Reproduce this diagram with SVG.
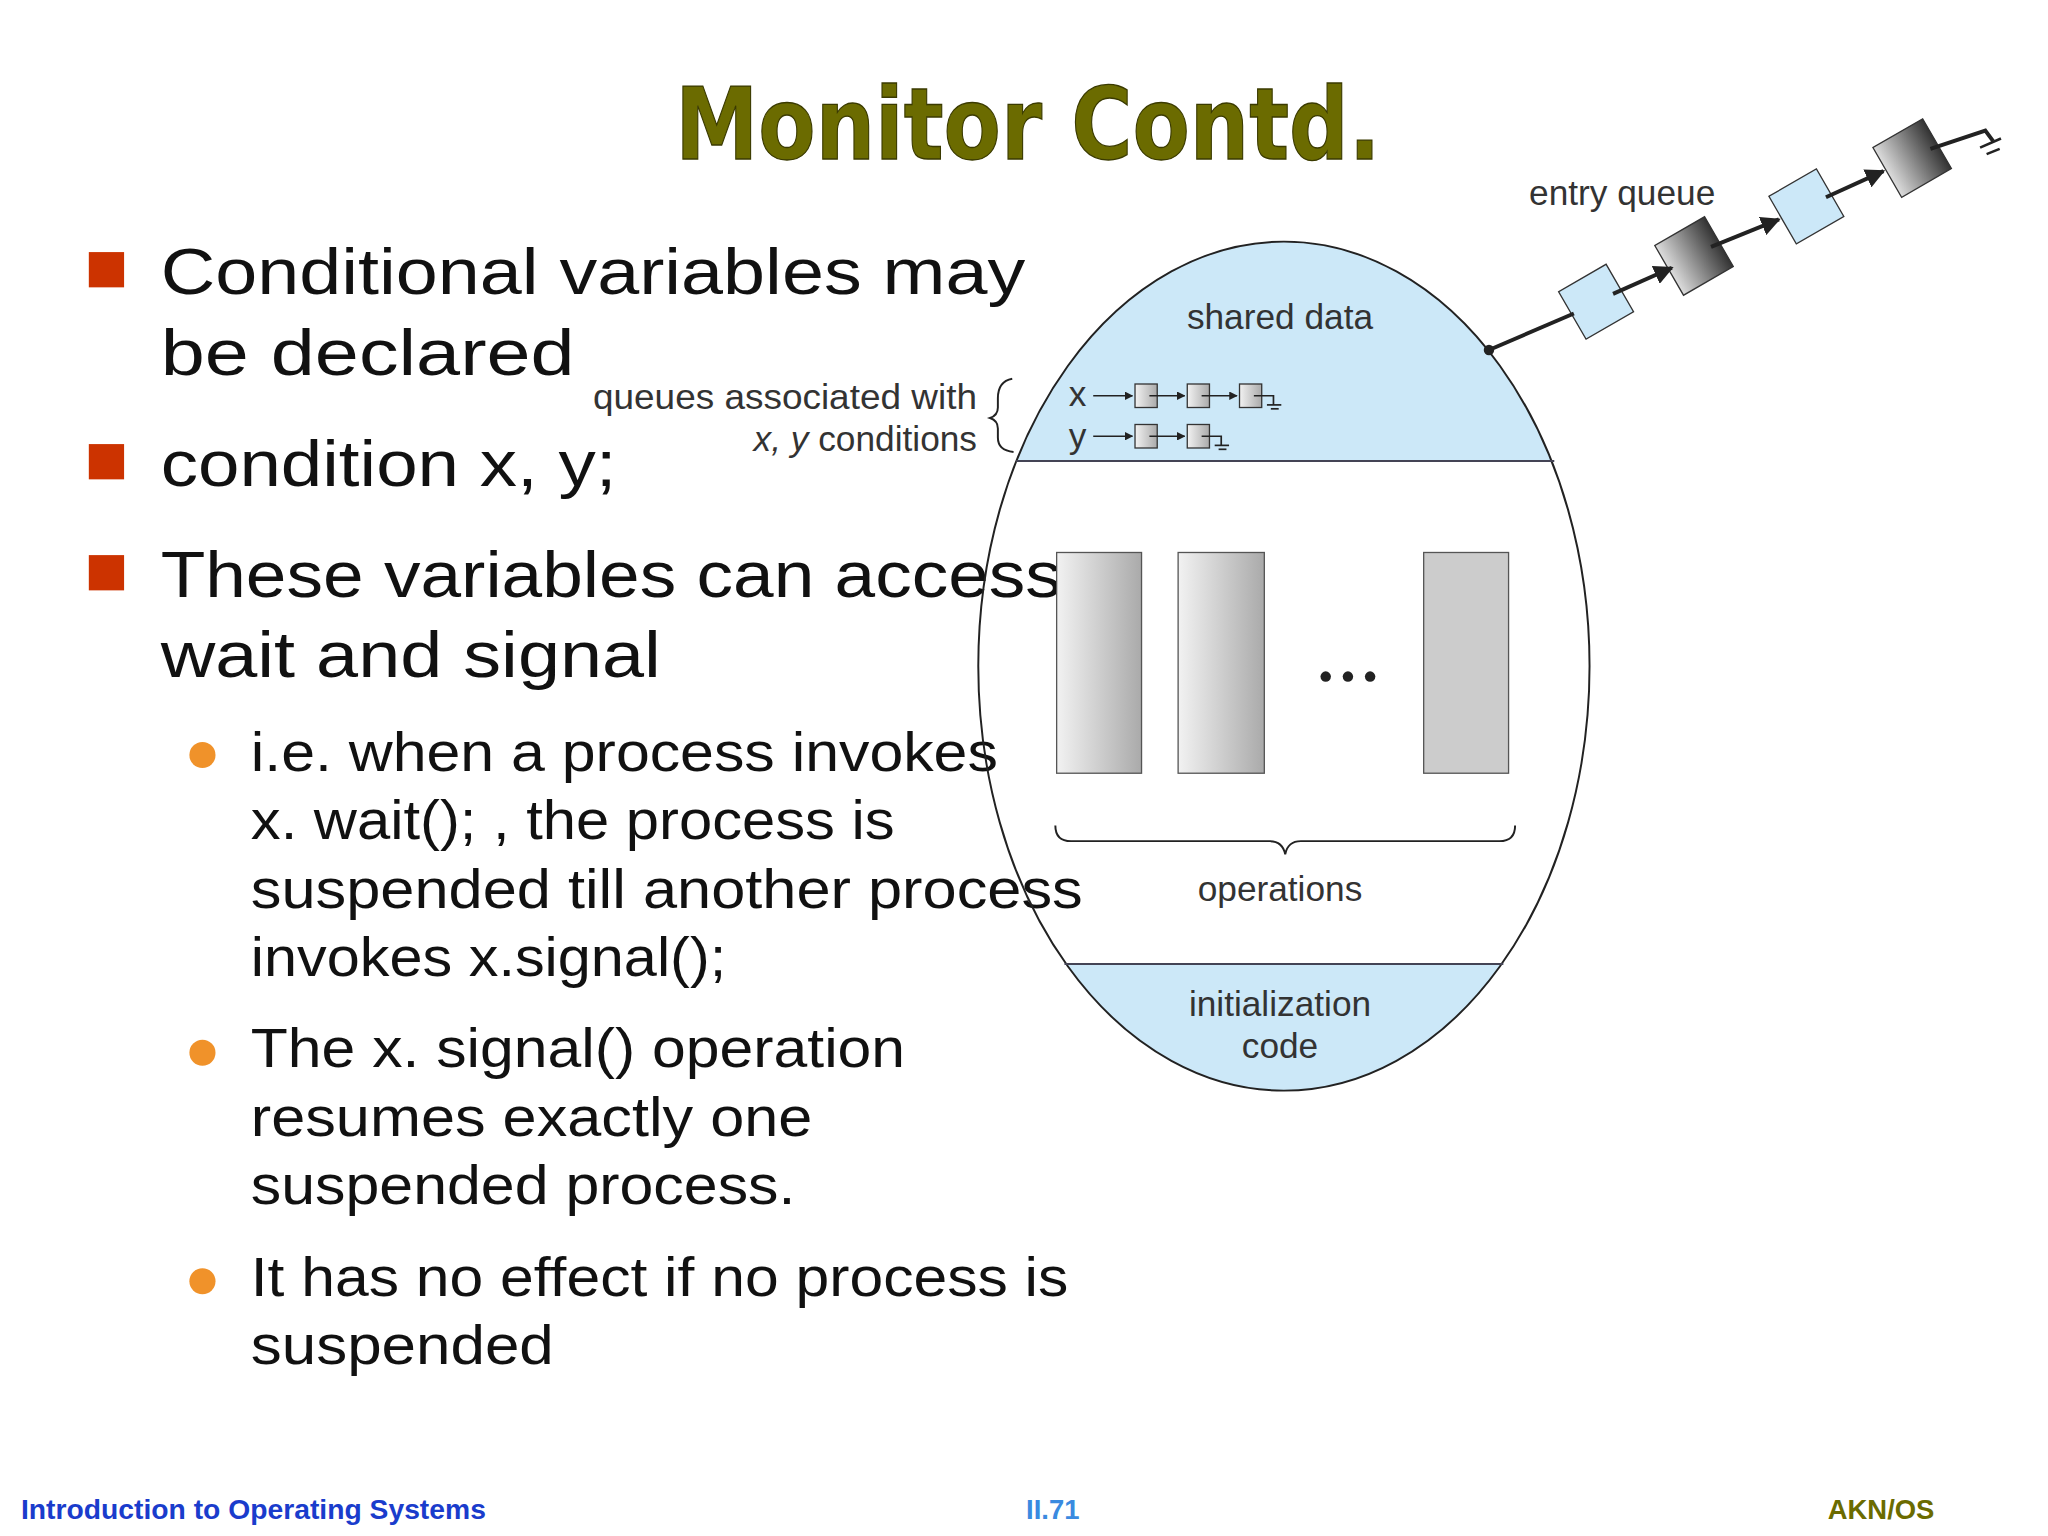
<svg xmlns="http://www.w3.org/2000/svg" width="2048" height="1536" viewBox="0 0 2048 1536">
<defs>
<style>
.b{font-family:"Liberation Sans",Arial,sans-serif;font-size:50px;fill:#111}
.s{font-family:"Liberation Sans",Arial,sans-serif;font-size:42px;fill:#111}
.d{font-family:"Liberation Sans",Arial,sans-serif;font-size:27px;fill:#333}
.f{font-family:"Liberation Sans",Arial,sans-serif;font-size:21px;font-weight:bold}
.ln{stroke:#222;stroke-width:1.5;fill:none}
</style>
<linearGradient id="g1" x1="0" x2="1"><stop offset="0" stop-color="#f2f2f2"/><stop offset="1" stop-color="#aaa"/></linearGradient>
<linearGradient id="g2" x1="0" x2="1"><stop offset="0" stop-color="#ddd"/><stop offset="1" stop-color="#333"/></linearGradient>
<clipPath id="ec"><ellipse cx="983" cy="510" rx="234" ry="325"/></clipPath>
<marker id="ar" viewBox="0 0 10 10" refX="9" refY="5" markerWidth="5" markerHeight="5" orient="auto"><path d="M0,0L10,5L0,10z" fill="#222"/></marker>
</defs>
<rect width="2048" height="1536" fill="#fff"/>
<g transform="scale(1.30612)">
<text x="517" y="122" textLength="540" lengthAdjust="spacingAndGlyphs" font-family="DejaVu Sans,sans-serif" font-weight="bold" font-size="76" fill="#6b6b00" stroke="#3a3a00" stroke-width="1">Monitor Contd.</text>
<g id="bullets">
<rect x="68" y="193" width="27" height="27" fill="#cc3300"/>
<rect x="68" y="340" width="27" height="27" fill="#cc3300"/>
<rect x="68" y="425" width="27" height="27" fill="#cc3300"/>
<text class="b" x="123" y="225" textLength="662" lengthAdjust="spacingAndGlyphs">Conditional variables may</text>
<text class="b" x="123" y="287" textLength="317" lengthAdjust="spacingAndGlyphs">be declared</text>
<text class="b" x="123" y="372" textLength="349" lengthAdjust="spacingAndGlyphs">condition x, y;</text>
<text class="b" x="123" y="457" textLength="690" lengthAdjust="spacingAndGlyphs">These variables can access</text>
<text class="b" x="123" y="518" textLength="383" lengthAdjust="spacingAndGlyphs">wait and signal</text>
<circle cx="155" cy="578" r="10" fill="#f0922a"/>
<circle cx="155" cy="806" r="10" fill="#f0922a"/>
<circle cx="155" cy="981" r="10" fill="#f0922a"/>
<text class="s" x="192" y="590" textLength="572" lengthAdjust="spacingAndGlyphs">i.e. when a process invokes</text>
<text class="s" x="192" y="642" textLength="493" lengthAdjust="spacingAndGlyphs">x. wait(); , the process is</text>
<text class="s" x="192" y="695" textLength="637" lengthAdjust="spacingAndGlyphs">suspended till another process</text>
<text class="s" x="192" y="747" textLength="364" lengthAdjust="spacingAndGlyphs">invokes x.signal();</text>
<text class="s" x="192" y="817" textLength="501" lengthAdjust="spacingAndGlyphs">The x. signal() operation</text>
<text class="s" x="192" y="870" textLength="430" lengthAdjust="spacingAndGlyphs">resumes exactly one</text>
<text class="s" x="192" y="922" textLength="417" lengthAdjust="spacingAndGlyphs">suspended process.</text>
<text class="s" x="192" y="992" textLength="626" lengthAdjust="spacingAndGlyphs">It has no effect if no process is</text>
<text class="s" x="192" y="1044" textLength="232" lengthAdjust="spacingAndGlyphs">suspended</text>
</g>
<g id="monitor">
<g clip-path="url(#ec)">
<rect x="740" y="180" width="490" height="173" fill="#cce8f8"/>
<rect x="740" y="738" width="490" height="110" fill="#cce8f8"/>
</g>
<ellipse cx="983" cy="510" rx="234" ry="325" class="ln"/>
<line x1="778" y1="353" x2="1190" y2="353" stroke="#445" stroke-width="1.5"/>
<line x1="815" y1="738" x2="1151" y2="738" stroke="#445" stroke-width="1.5"/>
<text class="d" x="980" y="252" text-anchor="middle">shared data</text>
<rect x="809" y="423" width="65" height="169" fill="url(#g1)" stroke="#555"/>
<rect x="902" y="423" width="66" height="169" fill="url(#g1)" stroke="#555"/>
<rect x="1090" y="423" width="65" height="169" fill="#ccc" stroke="#555"/>
<circle cx="1015" cy="518" r="4" fill="#222"/><circle cx="1032" cy="518" r="4" fill="#222"/><circle cx="1049" cy="518" r="4" fill="#222"/>
<path d="M808,632 Q808,644 820,644 L972,644 Q982,644 984,654 Q986,644 996,644 L1148,644 Q1160,644 1160,632" class="ln" stroke="#444"/>
<text class="d" x="980" y="690" text-anchor="middle">operations</text>
<text class="d" x="980" y="778" text-anchor="middle">initialization</text>
<text class="d" x="980" y="810" text-anchor="middle">code</text>
</g>
<g id="cond-queues">
<text class="d" x="825" y="311" text-anchor="middle">x</text>
<text class="d" x="825" y="343" text-anchor="middle">y</text>
<g fill="url(#g1)" stroke="#333">
<rect x="869" y="294" width="17" height="18"/><rect x="909" y="294" width="17" height="18"/><rect x="949" y="294" width="17" height="18"/>
<rect x="869" y="325" width="17" height="18"/><rect x="909" y="325" width="17" height="18"/>
</g>
<text class="d" x="454" y="313" textLength="294" lengthAdjust="spacingAndGlyphs">queues associated with</text>
<text class="d" x="748" y="345" text-anchor="end"><tspan font-style="italic">x, y</tspan> conditions</text>
<path d="M775,290 Q764,292 764,305 L764,312 Q764,318 758,320 Q764,322 764,328 L764,335 Q764,345 776,346" class="ln" stroke="#555"/>
</g>
<g id="entry">
<text class="d" x="1242" y="157" text-anchor="middle">entry queue</text>
<g transform="translate(1222,231) rotate(-30)"><rect x="-21" y="-21" width="42" height="42" fill="#cce8f8" stroke="#333"/></g>
<g transform="translate(1297,196) rotate(-30)"><rect x="-22" y="-22" width="44" height="44" fill="url(#g2)" stroke="#333"/></g>
<g transform="translate(1383,158) rotate(-30)"><rect x="-21" y="-21" width="42" height="42" fill="#cce8f8" stroke="#333"/></g>
<g transform="translate(1464,121) rotate(-30)"><rect x="-22" y="-22" width="44" height="44" fill="url(#g2)" stroke="#333"/></g>
</g>
<g id="connectors" stroke="#222" stroke-width="3" fill="none">
<circle cx="1140" cy="268" r="4" fill="#222" stroke="none"/>
<line x1="1140" y1="268" x2="1205" y2="240"/>
<line x1="1235" y1="225" x2="1280" y2="205" marker-end="url(#ar)"/>
<line x1="1310" y1="189" x2="1362" y2="168" marker-end="url(#ar)"/>
<line x1="1398" y1="151" x2="1442" y2="131" marker-end="url(#ar)"/>
<polyline points="1478,114 1520,100 1526,108"/>
<line x1="1516" y1="113" x2="1532" y2="106" stroke-width="2"/>
<line x1="1521" y1="118" x2="1531" y2="114" stroke-width="2"/>
<g stroke-width="1.3">
<line x1="837" y1="303" x2="867" y2="303" marker-end="url(#ar)"/>
<line x1="880" y1="303" x2="907" y2="303" marker-end="url(#ar)"/>
<line x1="920" y1="303" x2="947" y2="303" marker-end="url(#ar)"/>
<polyline points="960,303 975,303 975,310"/><line x1="970" y1="310" x2="981" y2="310"/><line x1="973" y1="313" x2="979" y2="313"/>
<line x1="837" y1="334" x2="867" y2="334" marker-end="url(#ar)"/>
<line x1="880" y1="334" x2="907" y2="334" marker-end="url(#ar)"/>
<polyline points="920,334 935,334 935,341"/><line x1="930" y1="341" x2="941" y2="341"/><line x1="933" y1="344" x2="939" y2="344"/>
</g>
</g>
<text class="f" x="16" y="1163" fill="#1a3ccc" textLength="356" lengthAdjust="spacingAndGlyphs">Introduction to Operating Systems</text>
<text class="f" x="806" y="1163" fill="#3a8ae0" text-anchor="middle">II.71</text>
<text class="f" x="1481" y="1163" fill="#6b6b00" text-anchor="end">AKN/OS</text>
</g>
</svg>
